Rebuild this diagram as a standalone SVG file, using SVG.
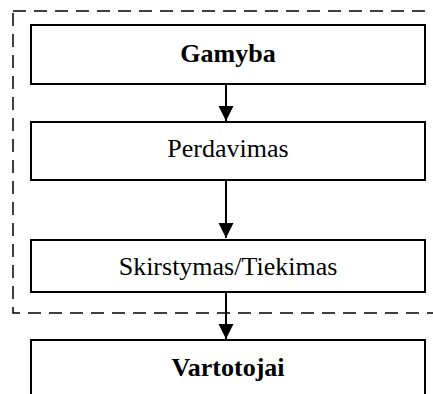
<svg xmlns="http://www.w3.org/2000/svg" width="433" height="394" viewBox="0 0 433 394">
<style>
.box{fill:#fff;stroke:#000;stroke-width:2}
.t{font-family:"Liberation Serif","Times New Roman",serif;font-size:26px;text-anchor:middle;fill:#000}
.b{font-weight:bold}
.con{stroke:#000;stroke-width:2;fill:none}
</style>
<defs>
<marker id="ah" markerUnits="userSpaceOnUse" markerWidth="15" markerHeight="16" refX="15" refY="7.5" orient="auto">
<path d="M0,0 L15,7.5 L0,15 Z" fill="#000"/>
</marker>
</defs>
<rect id="group" x="13" y="11" width="430" height="302" fill="none" stroke="#000" stroke-width="1.5" stroke-dasharray="13 8"/>
<g id="gamyba"><rect class="box" x="31" y="25" width="394" height="59"/><text class="t b" x="228" y="62">Gamyba</text></g>
<g id="perdavimas"><rect class="box" x="31" y="122" width="394" height="58"/><text class="t" x="228" y="157">Perdavimas</text></g>
<g id="skirstymas"><rect class="box" x="31" y="240" width="394" height="52"/><text class="t" x="228" y="275">Skirstymas/Tiekimas</text></g>
<g id="vartotojai"><rect class="box" x="31" y="340" width="394" height="70"/><text class="t b" x="228" y="376">Vartotojai</text></g>
<g id="connectors">
<line class="con" x1="226" y1="84" x2="226" y2="121" marker-end="url(#ah)"/>
<line class="con" x1="226" y1="180" x2="226" y2="238" marker-end="url(#ah)"/>
<line class="con" x1="226" y1="292" x2="226" y2="339" marker-end="url(#ah)"/>
</g>
</svg>
